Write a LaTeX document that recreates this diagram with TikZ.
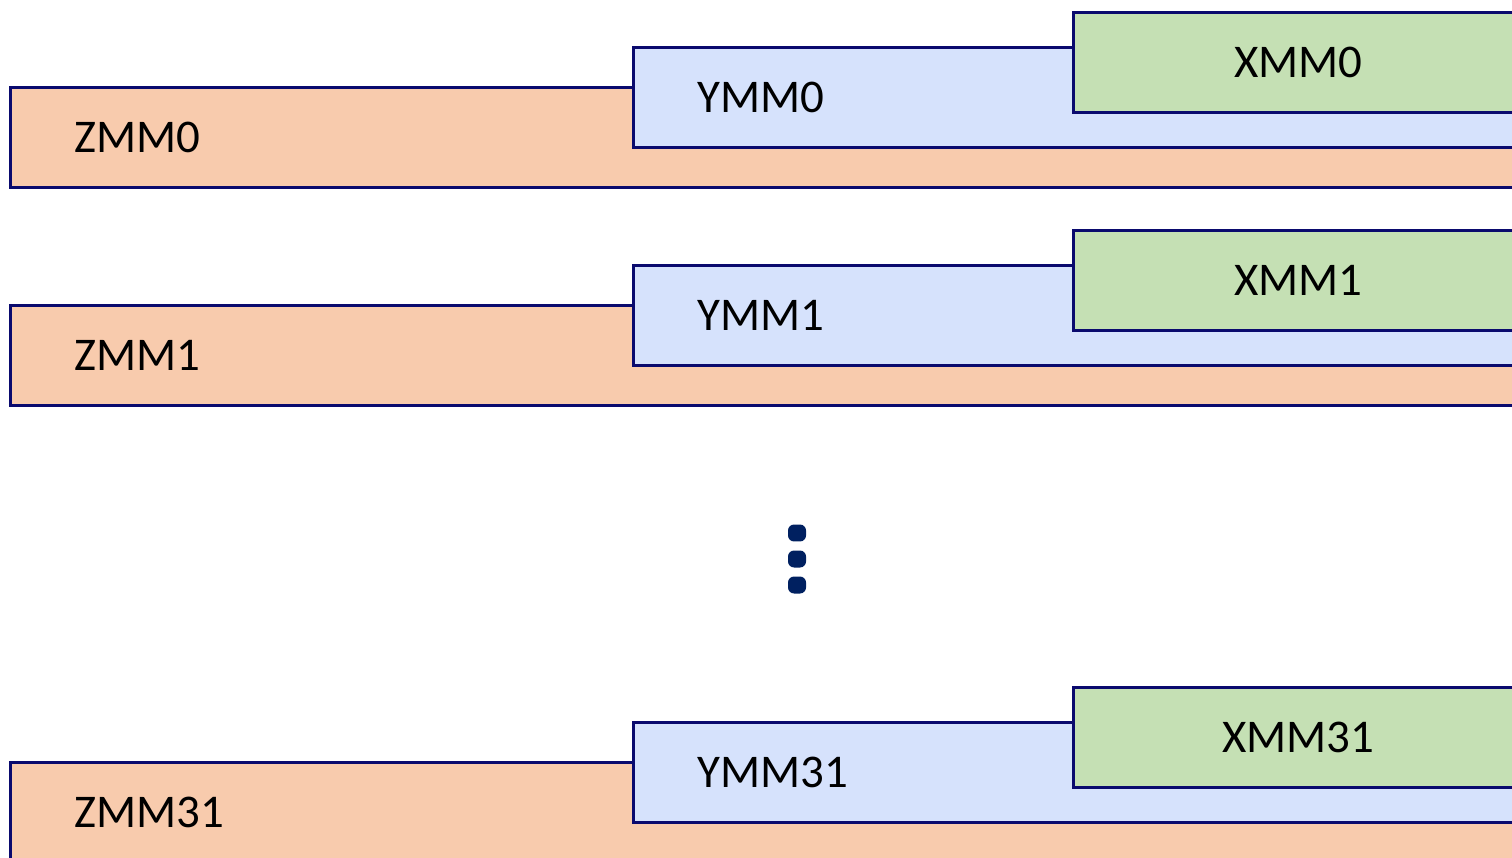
\documentclass[tikz,border=0pt]{standalone}
\usepackage{fontspec}
\setmainfont{Carlito}
\usetikzlibrary{positioning}
\definecolor{edgecol}{RGB}{10,10,110}
\definecolor{zcol}{RGB}{248,203,173}
\definecolor{ycol}{RGB}{214,226,252}
\definecolor{xcol}{RGB}{197,224,180}
\definecolor{dotcol}{RGB}{0,32,96}

\begin{document}
\begin{tikzpicture}[x=0.02cm, y=-0.02cm]
	\tikzset{
		reg/.style={%
			draw=edgecol,
			line width=0.055cm,
			shape=rectangle,
			anchor=north west,
			minimum height=2cm,
			font=\fontsize{26.7}{32}\selectfont},
		zreg/.style={reg, fill=zcol, inner xsep=1.28cm, text width=27.86cm, align=left},
		yreg/.style={reg, fill=ycol, inner xsep=1.28cm, text width=15.4cm, align=left},
		xreg/.style={reg, fill=xcol, minimum width=9cm, align=center}
	}

	\tikzstyle{dot_style} = [fill=dotcol, shape=rectangle, rounded corners=0.12cm, minimum width=0.36cm, minimum height=0.34cm, inner sep=0pt]

	\clip (0,0) rectangle (1512,858);

	% register 0
	\node[zreg] (z0) at (9, 86) {ZMM0};
	\node[yreg] (y0) at (632, 46) {YMM0};
	\node[xreg] (x0) at (1072, 11) {XMM0};

	% register 1
	\node[zreg] (z1) at (9, 304) {ZMM1};
	\node[yreg] (y1) at (632, 264) {YMM1};
	\node[xreg] (x1) at (1072, 229) {XMM1};

	% dots
	\node[dot_style] (d1) at (797, 533) {};
	\node[dot_style] (d2) at (797, 559) {};
	\node[dot_style] (d3) at (797, 585) {};

	% register 31
	\node[zreg] (z31) at (9, 761) {ZMM31};
	\node[yreg] (y31) at (632, 721) {YMM31};
	\node[xreg] (x31) at (1072, 686) {XMM31};

\end{tikzpicture}
\end{document}
